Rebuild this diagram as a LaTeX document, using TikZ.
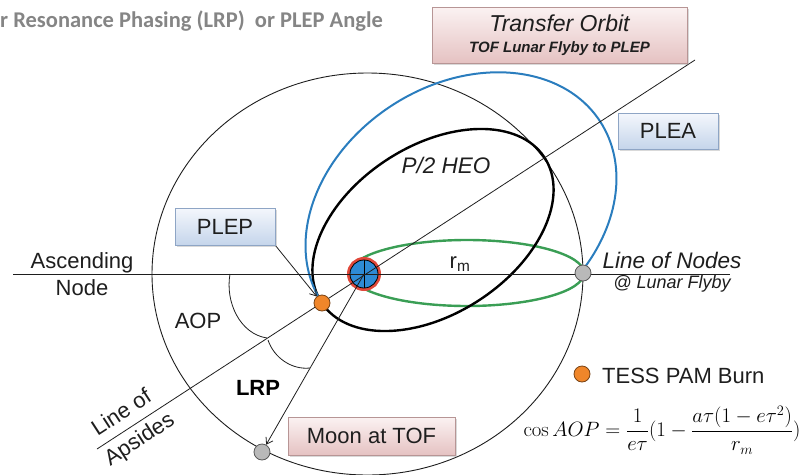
\documentclass[tikz,border=0pt]{standalone}
\usepackage{amsmath}
\usepackage[no-math]{fontspec}
\setmainfont{Liberation Sans}
\newfontfamily\titlefont{Carlito}
\usetikzlibrary{arrows.meta,positioning,calc,shadows}
\definecolor{OrbitBlue}{HTML}{2A7DBE}
\definecolor{OrbitGreen}{HTML}{3A9E55}
\definecolor{EarthBlue}{HTML}{2E8BD6}
\definecolor{EarthRed}{HTML}{E0483A}
\definecolor{BurnOrange}{HTML}{F0862A}
\definecolor{MoonGray}{HTML}{B9B9B9}
\definecolor{PinkTop}{HTML}{FBF2F2}
\definecolor{PinkBot}{HTML}{E5C2C2}
\definecolor{PinkEdge}{HTML}{B79595}
\definecolor{BlueTop}{HTML}{F4F7FC}
\definecolor{BlueBot}{HTML}{C5D5EB}
\definecolor{BlueEdge}{HTML}{8EA5C5}
\definecolor{TitleGray}{HTML}{858585}
\definecolor{InkGray}{HTML}{1E1E1E}
\newcommand{\fsz}[1]{\fontsize{#1}{#1}\selectfont}
\pgfdeclarelayer{orbits}
\pgfdeclarelayer{lines}
\pgfsetlayers{orbits,lines,main}
\tikzset{
  pinkbox/.style={draw=PinkEdge,top color=PinkTop,bottom color=PinkBot,align=center,inner sep=2pt,
              drop shadow={opacity=.3,shadow xshift=2pt,shadow yshift=-2pt},text=InkGray},
  bluebox/.style={draw=BlueEdge,top color=BlueTop,bottom color=BlueBot,align=center,inner sep=2pt,
              drop shadow={opacity=.3,shadow xshift=2pt,shadow yshift=-2pt},text=InkGray,
              font=\fsz{22},minimum width=100pt,minimum height=36pt},
  lbl/.style={font=\fsz{22},text=InkGray,inner sep=0pt},
  dot/.style={circle,draw=black!65,line width=.8pt,minimum size=16pt,inner sep=0pt},
  burn/.style={dot,fill=BurnOrange,draw=BurnOrange!50!black},
  moon/.style={dot,fill=MoonGray},
  thinline/.style={line width=.8pt,draw=InkGray},
  ptr/.style={thinline,-{Straight Barb[length=6pt,width=8pt]}},
  moonorbit/.style={line width=.9pt,draw=InkGray},
  heo/.style={line width=2.4pt,draw=black},
  transfer/.style={line width=2pt,draw=OrbitBlue},
  lunar/.style={line width=2.4pt,draw=OrbitGreen}
}
\begin{document}
\begin{tikzpicture}[x=1pt,y=1pt]
  \useasboundingbox (0,0) rectangle (803,-474);

  \begin{pgfonlayer}{orbits}
    \draw[moonorbit] (367.5,-274) ellipse[x radius=215.5,y radius=201];
    \draw[lunar] (467,-273) ellipse[x radius=117,y radius=33];
    \draw[heo,rotate around={33:(433,-230)}] (433,-230) ellipse[x radius=133,y radius=84];
    \draw[transfer,rotate around={33:(461,-212)}] (295,-212)
      arc[start angle=180,end angle=-66,x radius=166,y radius=127];
    \node[circle,minimum size=28pt,inner sep=0pt,fill=EarthBlue,draw=black,line width=.8pt,
          preaction={draw=EarthRed,line width=6pt},
          path picture={\draw[line width=.8pt] (path picture bounding box.north) -- (path picture bounding box.south);}]
          (earth) at (364,-274) {};
  \end{pgfonlayer}

  \node[anchor=base west,inner sep=0pt,font=\titlefont\bfseries\fsz{22.5},text=TitleGray] (title) at (0,-27)
    {r Resonance Phasing (LRP)~ or PLEP Angle};

  \node[burn] (plep) at (322,-303) {};
  \node[moon] (moonnode) at (583,-273) {};
  \node[moon] (moontof) at (262,-452) {};
  \coordinate (nodesW) at (13,-274);
  \coordinate (nodesE) at (730,-274);
  \coordinate (apsLo) at (97,-449);
  \coordinate (apsHi) at (695,-60);

  \node[pinkbox,minimum width=255pt,minimum height=56pt,font=\fontsize{15}{21}\selectfont] (transferbox) at (559.5,-35)
    {{\fontsize{23}{21}\selectfont\itshape Transfer Orbit}\\{\bfseries\itshape TOF Lunar Flyby to PLEP}};
  \node[bluebox] (pleabox) at (668,-131) {PLEA};
  \node[bluebox,minimum height=37pt] (plepbox) at (225,-226.5) {PLEP};
  \node[pinkbox,font=\fsz{22},minimum width=167pt,minimum height=38pt] (moonbox) at (371.5,-436) {Moon at TOF};

  \node[lbl,anchor=base] (asc) at (82,-268) {Ascending};
  \node[lbl,anchor=base] (ascnode) at (82,-295) {Node};
  \node[lbl,anchor=base,font=\fsz{22.5}\itshape] (lon) at (672,-268) {Line of Nodes};
  \node[lbl,anchor=base,font=\fsz{18}\itshape] (flyby) at (672,-288) {@ Lunar Flyby};
  \node[lbl,anchor=base] (aop) at (198,-328) {AOP};
  \node[lbl,anchor=base,font=\fsz{22}\bfseries,text=black] (lrp) at (258,-395) {LRP};
  \node[lbl,anchor=base,font=\fsz{22.5}\itshape] (heolbl) at (446,-173) {P/2 HEO};
  \node[lbl,anchor=base] (rm) at (460,-268) {r\textsubscript{m}};
  \node[lbl,rotate=33] (aps1) at (121,-412) {Line of};
  \node[lbl,rotate=33] (aps2) at (140,-440) {Apsides};
  \node[burn] (burnkey) at (582,-374) {};
  \node[lbl,anchor=base west] (burnlbl) at (602,-383) {TESS PAM Burn};
  \node[inner sep=0pt,text=black,font=\fsz{20}] (aopeq) at (662,-430)
    {$\displaystyle \cos AOP=\frac{1}{e\tau}(1-\frac{a\tau(1-e\tau^{2})}{r_{m}})$};

  \begin{pgfonlayer}{lines}
    \draw[thinline] (nodesW) -- (nodesE);
    \draw[thinline] (apsLo) -- (apsHi);
    \draw[thinline] (230,-274) .. controls (225,-302) and (240,-334) .. (267,-338);
    \draw[thinline] (268,-340) .. controls (274,-358) and (292,-370) .. (310,-368);
    \draw[ptr] (earth.center) -- (moontof);
    \draw[ptr] (plepbox.south east) -- (plep);
  \end{pgfonlayer}
\end{tikzpicture}
\end{document}
